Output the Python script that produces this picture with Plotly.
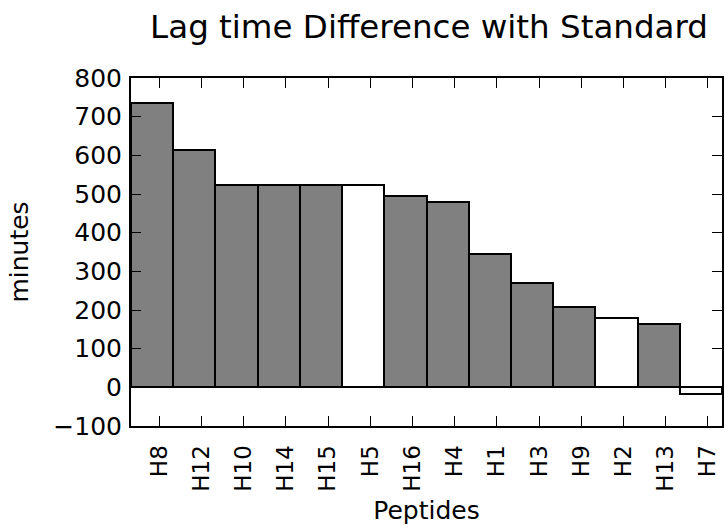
import plotly.graph_objects as go

peptides = ["H8", "H12", "H10", "H14", "H15", "H5", "H16", "H4", "H1", "H3", "H9", "H2", "H13", "H7"]
lag_diff = [735, 614, 523, 523, 523, 523, 495, 479, 345, 269, 209, 179, 164, -17]
bar_colors = ["#808080", "#808080", "#808080", "#808080", "#808080", "#ffffff", "#808080",
              "#808080", "#808080", "#808080", "#808080", "#ffffff", "#808080", "#ffffff"]
y_ticks = [-100, 0, 100, 200, 300, 400, 500, 600, 700, 800]

idx = list(range(len(peptides)))
fig = go.Figure()
fig.add_trace(go.Bar(
    x=[i + 0.5 for i in idx],
    y=lag_diff,
    width=1.0,
    marker=dict(color=bar_colors, line=dict(color="black", width=2)),
))

font = "DejaVu Sans, sans-serif"
fig.update_layout(
    width=725, height=529,
    margin=dict(l=131, r=1, t=78, b=103),
    paper_bgcolor="white", plot_bgcolor="white",
    showlegend=False,
    font=dict(family=font, color="black"),
    title=dict(text="Lag time Difference with Standard", x=429 / 725, xanchor="center",
               y=1 - 38 / 529, yanchor="bottom", pad=dict(b=0, t=0),
               font=dict(size=32.5, family=font)),
    bargap=0,
)
fig.update_xaxes(
    range=[0, len(peptides)],
    tickvals=[i + 2 / 3 for i in idx], ticktext=peptides, tickangle=-90,
    ticks="inside", ticklen=10, tickwidth=1.3, tickcolor="black",
    showline=True, linecolor="black", linewidth=2, mirror="ticks",
    showgrid=False, zeroline=False,
    ticklabelstandoff=8,
    tickfont=dict(size=23, family=font),
    title=dict(text="Peptides", font=dict(size=25, family=font), standoff=11),
)
fig.update_yaxes(
    range=[-100, 800],
    tickvals=y_ticks,
    ticks="inside", ticklen=10, tickwidth=1.3, tickcolor="black",
    showline=True, linecolor="black", linewidth=2, mirror="ticks",
    showgrid=False, zeroline=False,
    ticklabelstandoff=2,
    tickfont=dict(size=25, family=font),
    title=dict(text="minutes", font=dict(size=25, family=font), standoff=18),
)
fig.write_html("out.html")
